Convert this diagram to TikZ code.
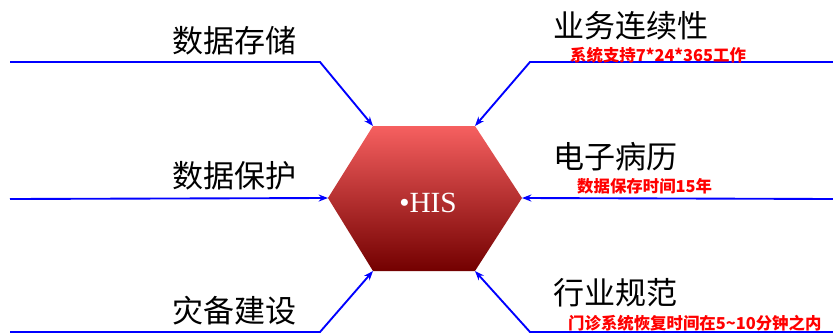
\documentclass[tikz,border=0pt]{standalone}
\usepackage{fontspec}
\setmainfont{Liberation Serif}
\newfontfamily\cjk{Noto Sans CJK SC}
\usetikzlibrary{arrows.meta}
\definecolor{histop}{RGB}{246,96,96}
\definecolor{hismid}{RGB}{205,42,42}
\definecolor{hisbottom}{RGB}{115,0,0}
\tikzset{
  link/.style={draw=blue,line width=1.6pt,-{Stealth[length=8pt,width=6pt]}},
  topic/.style={font=\cjk\fontsize{26.5}{30}\selectfont,inner sep=0pt,anchor=west},
  note/.style={font=\cjk\bfseries\fontsize{14}{16}\selectfont,text=red,inner sep=0pt,anchor=west},
}

\begin{document}
\begin{tikzpicture}[x=0.03cm,y=-0.03cm]
  \useasboundingbox (0,0) rectangle (833,333);

  % hexagon corners
  \coordinate (hex_w) at (328,198);
  \coordinate (hex_nw) at (373,126);
  \coordinate (hex_ne) at (475,126);
  \coordinate (hex_e) at (522,198);
  \coordinate (hex_se) at (475,271);
  \coordinate (hex_sw) at (373,271);
  \shade[top color=histop,middle color=hismid,bottom color=hisbottom]
    (hex_w) -- (hex_nw) -- (hex_ne) -- (hex_e) -- (hex_se) -- (hex_sw) -- cycle;
  \node[font=\fontsize{25}{29}\selectfont,text=white,inner sep=0pt] (his) at (428,203) {\textbullet HIS};

  % left side
  \coordinate (store_start) at (10,62);
  \coordinate (store_bend) at (320,62);
  \coordinate (protect_start) at (10,199);
  \coordinate (backup_start) at (10,332);
  \coordinate (backup_bend) at (320,332);
  \draw[link] (store_start) -- (store_bend) -- (hex_nw);
  \draw[link] (protect_start) -- (hex_w);
  \draw[link] (backup_start) -- (backup_bend) -- (hex_sw);

  % right side
  \coordinate (business_start) at (833,62);
  \coordinate (business_bend) at (530,62);
  \coordinate (emr_start) at (833,199);
  \coordinate (norm_start) at (833,332);
  \coordinate (norm_bend) at (530,332);
  \draw[link] (business_start) -- (business_bend) -- (hex_ne);
  \draw[link] (emr_start) -- (hex_e);
  \draw[link] (norm_start) -- (norm_bend) -- (hex_se);

  \node[topic] (store) at (172,41) {数据存储};
  \node[topic] (protect) at (172,176) {数据保护};
  \node[topic] (backup) at (172,311) {灾备建设};
  \node[topic] (business) at (553,26) {业务连续性};
  \node[topic] (emr) at (553,157) {电子病历};
  \node[topic] (norm) at (553,293) {行业规范};

  \node[note] (business_note) at (570,55) {系统支持7*24*365工作};
  \node[note] (emr_note) at (577,186) {数据保存时间15年};
  \node[note] (norm_note) at (568,323) {门诊系统恢复时间在5\textasciitilde10分钟之内};
\end{tikzpicture}
\end{document}
